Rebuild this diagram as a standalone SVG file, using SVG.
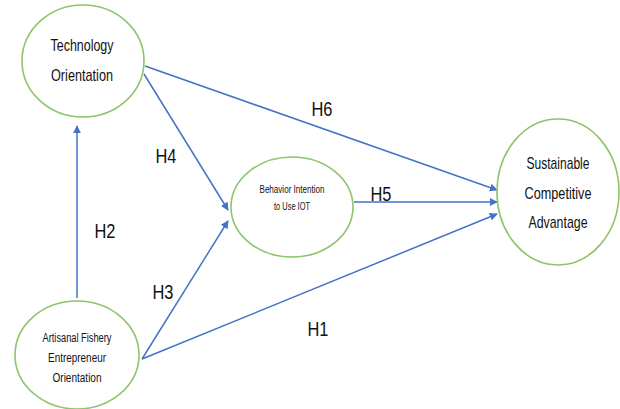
<svg xmlns="http://www.w3.org/2000/svg" width="620" height="409" viewBox="0 0 620 409">
<style>
.node{fill:#fff;stroke:#8CC56A;stroke-width:1.6}
.t{font-family:"Liberation Sans",Arial,sans-serif;fill:#111;text-anchor:middle}
.c{stroke:#4472C4;stroke-width:1.5;fill:none;marker-end:url(#ah)}
.h{font-family:"Liberation Sans",Arial,sans-serif;fill:#111;font-size:20px;text-anchor:middle}
</style>
<defs>
<marker id="ah" viewBox="0 0 10 10" refX="9" refY="5" markerWidth="8" markerHeight="8" markerUnits="userSpaceOnUse" orient="auto"><path d="M0,0 L10,5 L0,10 z" fill="#4472C4"/></marker>
</defs>
<rect width="620" height="409" fill="#fff"/>
<g id="connectors">
<line class="c" x1="77" y1="298" x2="77" y2="126"/>
<line class="c" x1="145" y1="66" x2="497" y2="190"/>
<line class="c" x1="144" y1="74" x2="228" y2="210"/>
<line class="c" x1="142" y1="359" x2="228" y2="221"/>
<line class="c" x1="354" y1="202" x2="497" y2="202"/>
<line class="c" x1="142" y1="359" x2="497" y2="214"/>
<text class="h" x="322" y="116" textLength="21" lengthAdjust="spacingAndGlyphs">H6</text>
<text class="h" x="166" y="163" textLength="21" lengthAdjust="spacingAndGlyphs">H4</text>
<text class="h" x="381" y="201" textLength="21" lengthAdjust="spacingAndGlyphs">H5</text>
<text class="h" x="105" y="238" textLength="21" lengthAdjust="spacingAndGlyphs">H2</text>
<text class="h" x="163" y="299" textLength="21" lengthAdjust="spacingAndGlyphs">H3</text>
<text class="h" x="318" y="336" textLength="21" lengthAdjust="spacingAndGlyphs">H1</text>
</g>
<g id="tech">
<ellipse class="node" cx="83" cy="61" rx="61" ry="56"/>
<text class="t" x="82" y="51" font-size="17" textLength="63" lengthAdjust="spacingAndGlyphs">Technology</text>
<text class="t" x="82" y="81" font-size="17" textLength="62" lengthAdjust="spacingAndGlyphs">Orientation</text>
</g>
<g id="behavior">
<ellipse class="node" cx="292" cy="207" rx="61" ry="50"/>
<text class="t" x="292" y="193" font-size="11" textLength="65" lengthAdjust="spacingAndGlyphs">Behavior Intention</text>
<text class="t" x="292" y="210" font-size="11" textLength="36" lengthAdjust="spacingAndGlyphs">to Use IOT</text>
</g>
<g id="sustainable">
<ellipse class="node" cx="558" cy="192" rx="61" ry="73"/>
<text class="t" x="558" y="169" font-size="17" textLength="63" lengthAdjust="spacingAndGlyphs">Sustainable</text>
<text class="t" x="558" y="199" font-size="17" textLength="67" lengthAdjust="spacingAndGlyphs">Competitive</text>
<text class="t" x="558" y="228" font-size="17" textLength="59" lengthAdjust="spacingAndGlyphs">Advantage</text>
</g>
<g id="artisanal">
<ellipse class="node" cx="77" cy="355" rx="62" ry="54"/>
<text class="t" x="77" y="342" font-size="12.5" textLength="69" lengthAdjust="spacingAndGlyphs">Artisanal Fishery</text>
<text class="t" x="77" y="362" font-size="12.5" textLength="58" lengthAdjust="spacingAndGlyphs">Entrepreneur</text>
<text class="t" x="77" y="382" font-size="12.5" textLength="49" lengthAdjust="spacingAndGlyphs">Orientation</text>
</g>
</svg>
